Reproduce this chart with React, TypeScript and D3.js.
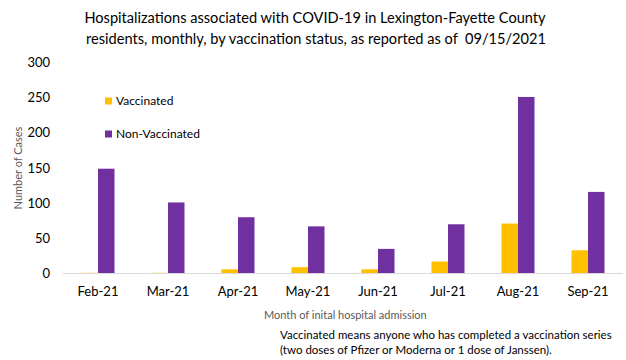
import React from "react";
import * as d3 from "d3";

const months = ["Feb-21", "Mar-21", "Apr-21", "May-21", "Jun-21", "Jul-21", "Aug-21", "Sep-21"];
const vaccinated = [1, 1, 6, 9, 6, 17, 71, 33];
const nonVaccinated = [149, 101, 80, 67, 35, 70, 251, 116];
const yTicks = [0, 50, 100, 150, 200, 250, 300];
const seriesNames = ["Vaccinated", "Non-Vaccinated"];
const seriesColors = ["#FFC000", "#7030A0"];

export default function App() {
  const W = 626, H = 360;
  const font = "Lato, 'Open Sans', sans-serif";
  const x = d3.scaleBand<string>().domain(months).range([63, 623]);
  const y = d3.scaleLinear().domain([0, 300]).range([273.5, 62.5]);
  const bw = 16.5;
  const series = [vaccinated, nonVaccinated];
  return (
    <svg width={W} height={H} style={{ position: "absolute", left: 0, top: 0, background: "#fff" }} fontFamily={font}>
      <rect x={0} y={0} width={W} height={H} fill="#fff" />
      <text x={315} y={23} textAnchor="middle" fontSize={14.6} fill="#000">
        Hospitalizations associated with COVID-19 in Lexington-Fayette County
      </text>
      <text x={316} y={43.5} textAnchor="middle" fontSize={14.6} fill="#000" style={{ whiteSpace: "pre" }}>
        {"residents, monthly, by vaccination status, as reported as of  09/15/2021"}
      </text>
      {yTicks.map((t) => (
        <text key={t} x={50} y={y(t)} dy="0.35em" textAnchor="end" fontSize={13} fill="#000">
          {t}
        </text>
      ))}
      <text
        transform={`translate(22,${(y(0) + y(300)) / 2}) rotate(-90)`}
        textAnchor="middle"
        fontSize={11}
        fill="#595959"
      >
        Number of Cases
      </text>
      {series.map((vals, si) =>
        vals.map((v, i) => {
          const cx = (x(months[i]) as number) + x.bandwidth() / 2;
          const bx = si === 0 ? cx - bw : cx;
          return (
            <rect key={`${si}-${i}`} x={bx} y={y(v)} width={bw} height={y(0) - y(v)} fill={seriesColors[si]} />
          );
        })
      )}
      <line x1={63} x2={623} y1={y(0)} y2={y(0)} stroke="#d9d9d9" strokeWidth={1} />
      {months.map((m) => (
        <text key={m} x={(x(m) as number) + x.bandwidth() / 2} y={291} dy="0.35em" textAnchor="middle" fontSize={13} fill="#000">
          {m}
        </text>
      ))}
      {seriesNames.map((n, i) => (
        <g key={n} transform={`translate(105,${101 + i * 33})`}>
          <rect x={0} y={-3.5} width={7} height={7} fill={seriesColors[i]} />
          <text x={11} y={0} dy="0.35em" fontSize={12} fill="#000">
            {n}
          </text>
        </g>
      ))}
      <text x={264} y={315} dy="0.35em" fontSize={11} fill="#595959">
        Month of inital hospital admission
      </text>
      <text x={280} y={335} dy="0.35em" fontSize={11.5} fill="#000">
        Vaccinated means anyone who has completed a vaccination series
      </text>
      <text x={280} y={350} dy="0.35em" fontSize={11.5} fill="#000">
        (two doses of Pfizer or Moderna or 1 dose of Janssen).
      </text>
    </svg>
  );
}
